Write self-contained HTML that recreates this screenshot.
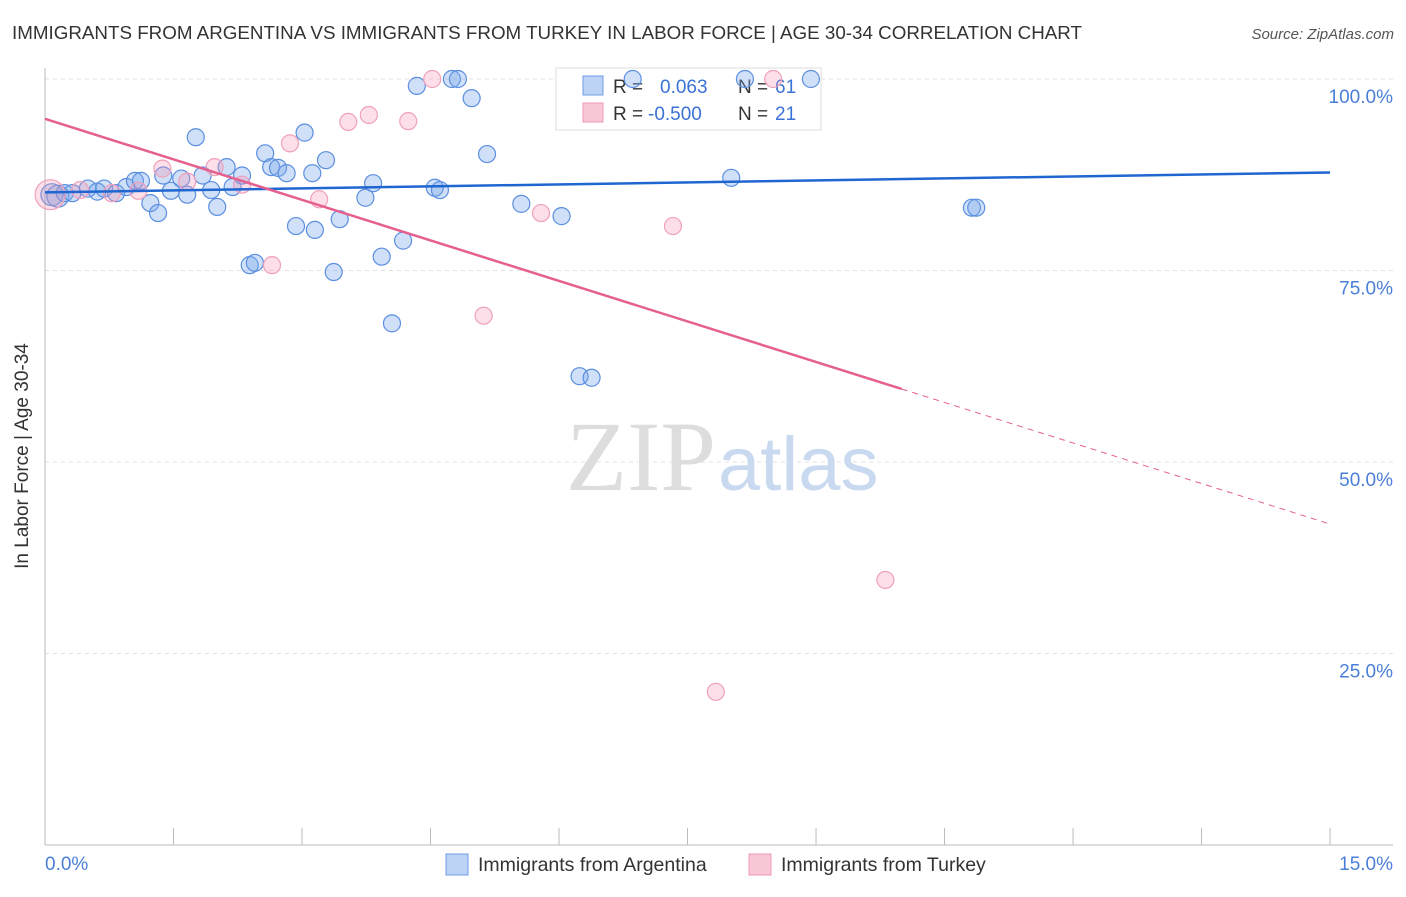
<!DOCTYPE html>
<html><head><meta charset="utf-8"><style>
body{margin:0;background:#fff;font-family:"Liberation Sans",sans-serif}
</style></head><body>
<svg width="1406" height="892" xmlns="http://www.w3.org/2000/svg" font-family="Liberation Sans, sans-serif">
<text x="12" y="39" font-size="18.8" fill="#333">IMMIGRANTS FROM ARGENTINA VS IMMIGRANTS FROM TURKEY IN LABOR FORCE | AGE 30-34 CORRELATION CHART</text>
<text x="1394" y="39" font-size="15" font-style="italic" fill="#555" text-anchor="end">Source: ZipAtlas.com</text>
<g id="grid"></g>
<text x="716" y="490" font-size="100" font-family="Liberation Serif, serif" fill="#ddd" text-anchor="end">ZIP</text>
<text x="718" y="490" font-size="76" fill="#c9daf0">atlas</text>
<g>
<rect x="556" y="68" width="265" height="62" fill="#fff" stroke="#ddd"/>
<rect x="583" y="76" width="20" height="19" fill="#bcd3f5" stroke="#6f9ee6"/>
<rect x="583" y="103" width="20" height="19" fill="#f9c6d6" stroke="#ee9ab5"/>
<text x="613" y="93" font-size="19" fill="#333">R = </text><text x="660" y="93" font-size="19" fill="#3a72d6">0.063</text>
<text x="738" y="93" font-size="19" fill="#333">N = </text><text x="775" y="93" font-size="19" fill="#3a72d6">61</text>
<text x="613" y="120" font-size="19" fill="#333">R = </text><text x="648" y="120" font-size="19" fill="#3a72d6">-0.500</text>
<text x="738" y="120" font-size="19" fill="#333">N = </text><text x="775" y="120" font-size="19" fill="#3a72d6">21</text>
</g>
<g id="marks"></g>
<g id="lines"></g>
<text x="28" y="456" font-size="19" fill="#333" text-anchor="middle" transform="rotate(-90 28 456)">In Labor Force | Age 30-34</text>
<g>
<rect x="446" y="854" width="22" height="21" fill="#bcd3f5" stroke="#6f9ee6"/>
<text x="478" y="871" font-size="19.5" fill="#333">Immigrants from Argentina</text>
<rect x="749" y="854" width="22" height="21" fill="#f9c6d6" stroke="#ee9ab5"/>
<text x="781" y="871" font-size="19.5" fill="#333">Immigrants from Turkey</text>
</g>
</svg>
<script>
const blueX=[0.08,0.15,0.23,0.32,0.50,0.61,0.69,0.83,0.95,1.05,1.12,1.23,1.32,1.38,1.47,1.59,1.66,1.76,1.84,1.94,2.01,2.12,2.19,2.30,2.39,2.45,2.57,2.64,2.72,2.82,2.93,3.03,3.12,3.15,3.28,3.37,3.44,3.74,3.83,3.93,4.05,4.18,4.34,4.55,4.61,4.75,4.82,4.98,5.16,5.56,6.03,6.24,6.38,6.86,8.01,8.17,8.94,10.82,10.87];
const blueY=[84.9,84.7,85.1,85.1,85.7,85.3,85.7,85.1,85.9,86.7,86.7,83.8,82.5,87.4,85.4,87.0,84.9,92.4,87.4,85.5,83.3,88.5,85.9,87.4,75.7,76.0,90.3,88.5,88.4,87.7,80.8,93.0,87.7,80.3,89.4,74.8,81.7,84.5,86.4,76.8,68.1,78.9,99.1,85.8,85.5,100,100,97.5,90.2,83.7,82.1,61.2,61.0,100,87.1,100,100,83.2,83.2];
const pinkX=[0.06,0.41,0.78,1.09,1.37,1.66,1.98,2.30,2.65,2.86,3.20,3.54,3.78,4.24,4.52,5.12,5.79,7.33,8.50,9.81,7.83];
const pinkY=[84.9,85.5,85.1,85.4,88.3,86.6,88.5,86.2,75.7,91.6,84.3,94.4,95.3,94.5,100,69.1,82.5,80.8,100,34.6,20.0];
const blueFit=[85.2,87.8];
const pinkFit=[94.8,41.9];
const pinkSolidEnd=10.0;
const yTicks=[100,75,50,25];
const yTickLabels=["100.0%","75.0%","50.0%","25.0%"];
const xTickCount=11;
const NS="http://www.w3.org/2000/svg";
const sx=v=>45+v*85.67, sy=v=>845-v*7.66;
function mk(t,a,p){const e=document.createElementNS(NS,t);for(const k in a)e.setAttribute(k,a[k]);p.appendChild(e);return e;}
const grid=document.getElementById('grid'),marks=document.getElementById('marks'),lines=document.getElementById('lines');
yTicks.forEach((t,i)=>{
 const l=mk('line',{x1:45,x2:1393,y1:sy(t),y2:sy(t),stroke:'#e0e0e0','stroke-dasharray':'4,4'},grid);
 
 
 const tx=mk('text',{x:1393,y:sy(t)+24,'font-size':19,fill:'#4a7fd8','text-anchor':'end'},grid);
 tx.textContent=yTickLabels[i];
 
 
});
const ax=mk('line',{x1:45,x2:45,y1:68,y2:845,stroke:'#bbb'},grid);


const bx=mk('line',{x1:45,x2:1393,y1:845,y2:845,stroke:'#bbb'},grid);


for(let k=0;k<xTickCount;k++){
 const t=mk('line',{x1:sx(k*1.5),x2:sx(k*1.5),y1:828,y2:845,stroke:'#bbb'},grid);
 
 
}
[[45,'start','0.0%'],[1393,'end','15.0%']].forEach(a=>{const t=mk('text',{x:a[0],y:870,'font-size':19,fill:'#4a7fd8','text-anchor':a[1]},grid);t.textContent=a[2];
 
 });
blueX.forEach((x,i)=>{const c=mk('circle',{cx:sx(x),cy:sy(blueY[i]),r:i<2?11:8.5,fill:'rgba(120,165,235,0.35)',stroke:'#5b8fe0','stroke-width':1.2},marks);
 
 });
pinkX.forEach((x,i)=>{const c=mk('circle',{cx:sx(x),cy:sy(pinkY[i]),r:i==0?15:8.5,fill:'rgba(245,150,180,0.3)',stroke:'#f0a0bb','stroke-width':1.2},marks);
 
 });
const bl=mk('line',{x1:sx(0),y1:sy(blueFit[0]),x2:sx(15),y2:sy(blueFit[1]),stroke:'#1f66d1','stroke-width':2.5},lines);


const pe=pinkFit[0]+(pinkFit[1]-pinkFit[0])*pinkSolidEnd/15;
const pl=mk('line',{x1:sx(0),y1:sy(pinkFit[0]),x2:sx(pinkSolidEnd),y2:sy(pe),stroke:'#e5608f','stroke-width':2.5},lines);


const pd=mk('line',{x1:sx(pinkSolidEnd),y1:sy(pe),x2:sx(15),y2:sy(pinkFit[1]),stroke:'#e5608f','stroke-width':1,'stroke-dasharray':'6,5'},lines);


</script>
</body></html>
